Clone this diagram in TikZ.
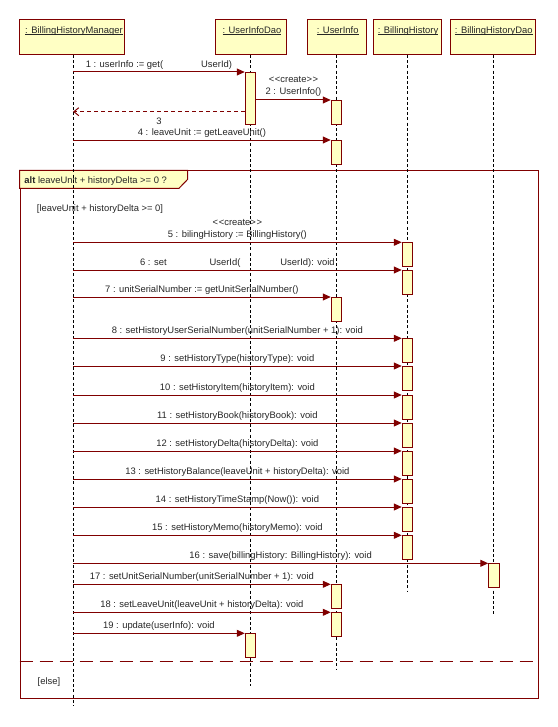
\documentclass[tikz,border=0pt]{standalone}
\usepackage{fontspec}
\setmainfont{Liberation Sans}
\usetikzlibrary{arrows.meta}
\definecolor{umlred}{RGB}{128,0,0}
\definecolor{umlfill}{RGB}{255,255,196}
\newcommand\myul[1]{\setbox0\hbox{#1}\rlap{\rule[-1.3bp]{\wd0}{0.8bp}}\box0}
\newcommand\cre{<\kern0.6bp<create>\kern0.6bp>}
\begin{document}
\begin{tikzpicture}[x=1bp,y=-1bp,
  every node/.style={font=\fontsize{9.4bp}{11bp}\selectfont, text=black!85},
  objbox/.style={draw=umlred, fill=umlfill, line width=1bp, minimum width=#1, minimum height=35bp, anchor=north, inner sep=0},
  objlbl/.style={anchor=base, inner sep=0},
  life/.style={draw=black, line width=1bp, dash pattern=on 3bp off 2.2bp},
  act/.style={draw=umlred, fill=umlfill, line width=1bp, minimum width=10.5bp, minimum height=24bp, anchor=north, inner sep=0},
  msg/.style={draw=umlred, line width=1bp, -{Triangle[length=8bp,width=7bp]}},
  ret/.style={draw=umlred, line width=1bp, dash pattern=on 4bp off 3bp, -{Straight Barb[length=5bp,width=8bp,line width=1bp]}},
  lbl/.style={midway, anchor=base, yshift=4.5bp, inner sep=0},
  frame/.style={draw=umlred, line width=1bp}]
\useasboundingbox (0,0) rectangle (558,727);

% alt frame
\node[frame, minimum width=518.2bp, minimum height=528bp, anchor=north west, inner sep=0] (altf) at (19.5,170.3) {};
\draw[frame, fill=umlfill] (19.5,170.3) -- (187.7,170.3) -- (187.7,179.3) -- (179,188.3) -- (19.5,188.3) -- cycle;
\node[anchor=base west, inner sep=0] (altlbl) at (24.3,183.6) {\textbf{alt} leaveUnit + historyDelta >= 0 ?};
\node[anchor=base west, inner sep=0] (g1) at (36.7,211) {[leaveUnit + historyDelta >= 0]};
\node[anchor=base west, inner sep=0] (g2) at (37.5,684) {[else]};
\draw[draw=umlred, line width=1bp, dash pattern=on 13bp off 7bp] (altf.west |- 0,661.3) -- (altf.east |- 0,661.3);

% object boxes
\node[objbox=104bp] (h1) at (72,19) {};
\node[objbox=71bp] (h2) at (250.5,19) {};
\node[objbox=59bp] (h3) at (336.5,19) {};
\node[objbox=68bp] (h4) at (407,19) {};
\node[objbox=85bp] (h5) at (492.5,19) {};
\node[objlbl] at (74,33.5) {\myul{: BillingHistoryManager}};
\node[objlbl] at (252,33.5) {\myul{: UserInfoDao}};
\node[objlbl] at (337.7,33.5) {\myul{: UserInfo}};
\node[objlbl] at (408,33.5) {\myul{: BillingHistory}};
\node[objlbl] at (493.8,33.5) {\myul{: BillingHistoryDao}};

% lifeline ends
\coordinate (e1) at (73,706);
\coordinate (e2) at (250.5,685.7);
\coordinate (e3) at (336.5,670);
\coordinate (e4) at (407.5,591.7);
\coordinate (e5) at (493.5,615);
\draw[life] (h1.south -| e1) -- (e1);
\draw[life] (h2.south -| e2) -- (e2);
\draw[life] (h3.south -| e3) -- (e3);
\draw[life] (h4.south -| e4) -- (e4);
\draw[life] (h5.south -| e5) -- (e5);

% activations
\node[act, minimum height=52bp] (a1) at (250.5,72) {};
\node[act] (a2) at (336.5,100) {};
\node[act] (a4) at (336.5,140) {};
\node[act] (a5) at (407.5,242.3) {};
\node[act] (a6) at (407.5,270) {};
\node[act] (a7) at (336.5,297) {};
\node[act] (a8) at (407.5,338.3) {};
\node[act] (a9) at (407.5,366) {};
\node[act] (a10) at (407.5,395) {};
\node[act] (a11) at (407.5,423) {};
\node[act] (a12) at (407.5,451) {};
\node[act] (a13) at (407.5,479) {};
\node[act] (a14) at (407.5,507) {};
\node[act] (a15) at (407.5,535.3) {};
\node[act] (a16) at (494,563.3) {};
\node[act] (a17) at (336.5,584.3) {};
\node[act] (a18) at (336.5,612.3) {};
\node[act] (a19) at (250.5,633.3) {};

% message start points on the manager lifeline
\foreach \n/\y in {1/72,4/140,5/242.3,6/270,7/297,8/338.3,9/366,10/395,11/423,12/451,13/479,14/507,15/535.3,16/563.3,17/584.3,18/612.3,19/633.3}
  \coordinate (s\n) at (73,\y);
\coordinate (r3) at (73,111.7);

% messages
\draw[msg] (s1) -- (a1.north west) node[lbl]{1 : userInfo := get(\hspace{38bp}UserId)};
\draw[msg] (a1.east |- a2.north) -- (a2.north west) node[lbl, yshift=0.5bp]{2 : UserInfo()} node[lbl, yshift=12.5bp]{\cre};
\draw[ret] (a1.west |- r3) -- (r3) node[midway, anchor=base, yshift=-12.5bp, inner sep=0]{3};
\draw[msg] (s4) -- (a4.north west) node[lbl]{4 : leaveUnit := getLeaveUnit()};
\draw[msg] (s5) -- (a5.north west) node[lbl]{5 : bilingHistory := BillingHistory()} node[lbl, yshift=12bp]{\cre};
\draw[msg] (s6) -- (a6.north west) node[lbl]{6 : set\hspace{43bp}UserId(\hspace{40bp}UserId): void};
\draw[msg] (s7) -- (a7.north west) node[lbl]{7 : unitSerialNumber := getUnitSerialNumber()};
\draw[msg] (s8) -- (a8.north west) node[lbl]{8 : setHistoryUserSerialNumber(unitSerialNumber + 1): void};
\draw[msg] (s9) -- (a9.north west) node[lbl]{9 : setHistoryType(historyType): void};
\draw[msg] (s10) -- (a10.north west) node[lbl]{10 : setHistoryItem(historyItem): void};
\draw[msg] (s11) -- (a11.north west) node[lbl]{11 : setHistoryBook(historyBook): void};
\draw[msg] (s12) -- (a12.north west) node[lbl]{12 : setHistoryDelta(historyDelta): void};
\draw[msg] (s13) -- (a13.north west) node[lbl]{13 : setHistoryBalance(leaveUnit + historyDelta): void};
\draw[msg] (s14) -- (a14.north west) node[lbl]{14 : setHistoryTimeStamp(Now()): void};
\draw[msg] (s15) -- (a15.north west) node[lbl]{15 : setHistoryMemo(historyMemo): void};
\draw[msg] (s16) -- (a16.north west) node[lbl]{16 : save(billingHistory: BillingHistory): void};
\draw[msg] (s17) -- (a17.north west) node[lbl]{17 : setUnitSerialNumber(unitSerialNumber + 1): void};
\draw[msg] (s18) -- (a18.north west) node[lbl]{18 : setLeaveUnit(leaveUnit + historyDelta): void};
\draw[msg] (s19) -- (a19.north west) node[lbl]{19 : update(userInfo): void};
\end{tikzpicture}
\end{document}
